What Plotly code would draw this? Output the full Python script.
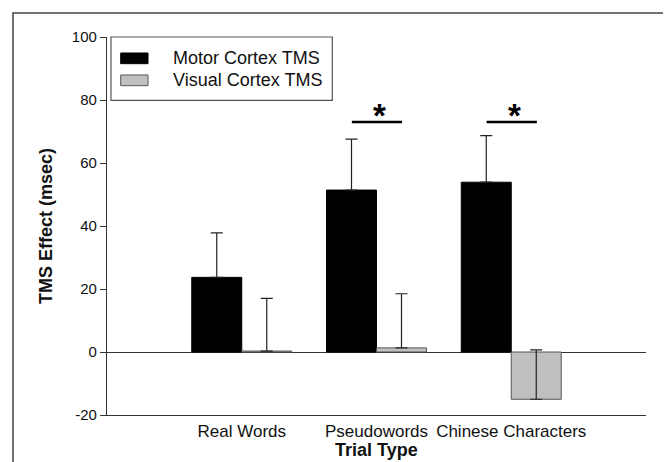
import plotly.graph_objects as go

categories = ["Real Words", "Pseudowords", "Chinese Characters"]
series_names = ["Motor Cortex TMS", "Visual Cortex TMS"]
motor = [23.7, 51.4, 53.9]
motor_err = [14.1, 16.2, 14.8]
visual = [0.3, 1.3, -15.0]
visual_err = [16.7, 17.2, 15.7]
sig_categories = ["Pseudowords", "Chinese Characters"]
sig_level = 73
y_ticks = [-20, 0, 20, 40, 60, 80, 100]
y_tick_labels = [str(v) for v in y_ticks]

FONT = "Arial, 'Liberation Sans', Helvetica, sans-serif"
AX = "#333333"

fig = go.Figure()
fig.add_trace(go.Bar(
    x=categories, y=motor, name=series_names[0],
    marker=dict(color="#000000", line=dict(color="#000000", width=1)),
    error_y=dict(type="data", symmetric=False, array=motor_err,
                 arrayminus=[0] * len(motor_err), color="#222222",
                 thickness=1.2, width=6),
    showlegend=False,
))
fig.add_trace(go.Bar(
    x=categories, y=visual, name=series_names[1],
    marker=dict(color="#c0c0c0", line=dict(color="#555555", width=1)),
    error_y=dict(type="data", symmetric=False, array=visual_err,
                 arrayminus=[0] * len(visual_err), color="#222222",
                 thickness=1.2, width=6),
    showlegend=False,
))

shapes = []
annotations = []
# outer frame
shapes.append(dict(type="rect", xref="paper", yref="paper",
                   x0=-0.1744, x1=1.0445, y0=-0.3, y1=1.0635,
                   line=dict(color="#444444", width=1.5), layer="below"))
# legend box
shapes.append(dict(type="rect", xref="paper", yref="paper",
                   x0=0.0074, x1=0.418, y0=0.8325, y1=1.0,
                   line=dict(color="#555555", width=1.2), fillcolor="white"))
swatch_cols = [("#000000", "#000000"), ("#c0c0c0", "#555555")]
sw_y = [(0.9294, 0.9577), (0.8712, 0.8995)]
txt_y = [0.9452, 0.8862]
for i, name in enumerate(series_names):
    shapes.append(dict(type="rect", xref="paper", yref="paper",
                       x0=0.0254, x1=0.0761, y0=sw_y[i][0], y1=sw_y[i][1],
                       fillcolor=swatch_cols[i][0],
                       line=dict(color=swatch_cols[i][1], width=1)))
    annotations.append(dict(text=name, xref="paper", yref="paper",
                            x=0.119, y=txt_y[i], xanchor="left", yanchor="middle",
                            showarrow=False, font=dict(family=FONT, size=18, color="#111111")))

# significance markers
for c in sig_categories:
    idx = categories.index(c)
    shapes.append(dict(type="line", xref="x", yref="y",
                       x0=idx - 0.183, x1=idx + 0.19, y0=sig_level, y1=sig_level,
                       line=dict(color="#000000", width=2.5)))
    annotations.append(dict(text="<b>*</b>", xref="x", yref="y",
                            x=idx + 0.025, y=sig_level, xanchor="center", yanchor="bottom",
                            yshift=-14, showarrow=False,
                            font=dict(family=FONT, size=33, color="#000000")))

# axis titles
annotations.append(dict(text="<b>TMS Effect (msec)</b>", xref="paper", yref="paper",
                        x=-0.113, y=0.5, xanchor="center", yanchor="middle", textangle=-90,
                        showarrow=False, font=dict(family=FONT, size=18, color="#111111")))
annotations.append(dict(text="<b>Trial Type</b>", xref="paper", yref="paper",
                        x=0.5, y=-0.0926, xanchor="center", yanchor="middle",
                        showarrow=False, font=dict(family=FONT, size=18, color="#111111")))

fig.update_layout(
    width=663, height=454,
    margin=dict(l=99, r=25, t=29, b=47),
    paper_bgcolor="white", plot_bgcolor="white",
    barmode="group", bargap=0.258, bargroupgap=0,
    font=dict(family=FONT, color="#111111"),
    shapes=shapes, annotations=annotations,
)
fig.update_xaxes(
    type="category", range=[-1, 3],
    showline=True, linecolor=AX, linewidth=1.2,
    ticks="",
    showgrid=False, zeroline=False,
    tickfont=dict(family=FONT, size=17, color="#111111"),
)
fig.update_yaxes(
    range=[-20, 100], tickvals=y_ticks, ticktext=y_tick_labels,
    showline=True, linecolor=AX, linewidth=1.2,
    ticks="outside", ticklen=6, tickcolor=AX, tickwidth=1.2,
    showgrid=False, zeroline=True, zerolinecolor=AX, zerolinewidth=1.2,
    tickfont=dict(family=FONT, size=15, color="#111111"),
)

fig.write_html("out.html")
